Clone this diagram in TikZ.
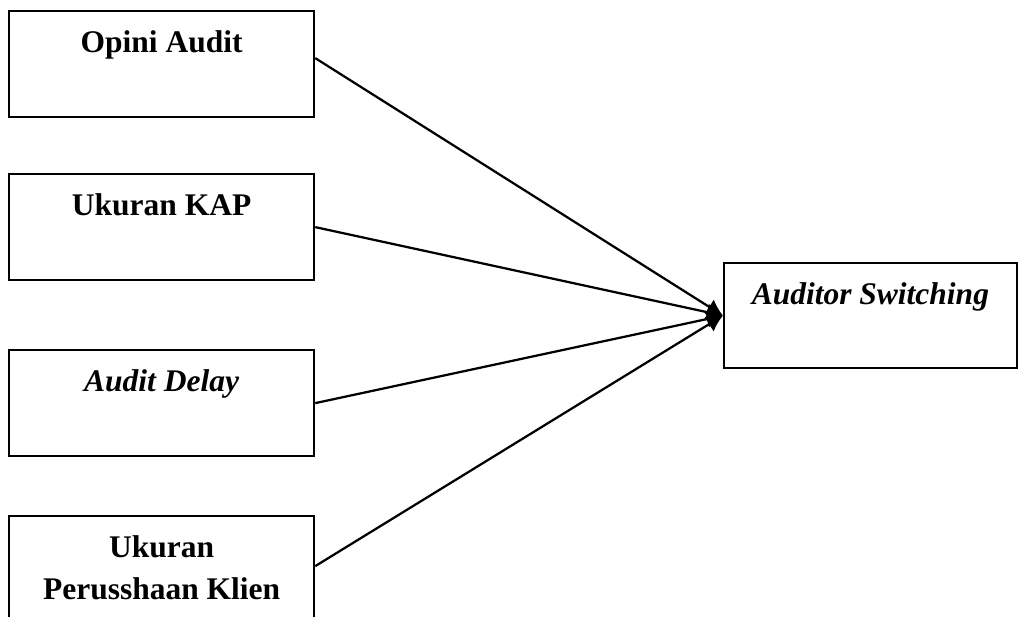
\documentclass[tikz,border=0pt]{standalone}
\usepackage{fontspec}
\setmainfont{Liberation Serif}
\usetikzlibrary{arrows.meta,positioning}
\tikzset{
  box/.style={draw,line width=0.9pt,minimum width=122pt,minimum height=42.4pt,anchor=north west,inner sep=0pt},
  lbl/.style={font=\fontsize{12.6}{16.8}\selectfont\bfseries,align=center,anchor=north,inner sep=0pt},
  link/.style={line width=0.9pt,-{Latex[length=6.5pt,width=7pt]}}
}
\begin{document}
\begin{tikzpicture}[x=0.4pt,y=-0.4pt]
\useasboundingbox (0,0) rectangle (1019,617);
% variabel bebas
\node[box] (opini) at (8,10) {};
\node[box,minimum height=42.4pt] (kap) at (8,173) {};
\node[box] (delay) at (8,349) {};
\node[box] (klien) at (8,515) {};
% variabel terikat
\node[box,minimum width=117pt,minimum height=42pt] (switching) at (723,262) {};
% teks
\node[lbl,below=8pt of opini.north] (opinitxt) {Opini Audit};
\node[lbl,below=8pt of kap.north] (kaptxt) {Ukuran KAP};
\node[lbl,below=8pt of delay.north] (delaytxt) {\itshape Audit Delay};
\node[lbl,below=8pt of klien.north] (klientxt) {Ukuran\\Perusshaan Klien};
\node[lbl,below=8pt of switching.north] (switchingtxt) {\itshape Auditor Switching};
% panah
\draw[link] ([yshift=2.4pt]opini.east) -- (switching.west);
\draw[link] (kap.east) -- (switching.west);
\draw[link] (delay.east) -- (switching.west);
\draw[link] ([yshift=1.2pt]klien.east) -- (switching.west);
\end{tikzpicture}
\end{document}
